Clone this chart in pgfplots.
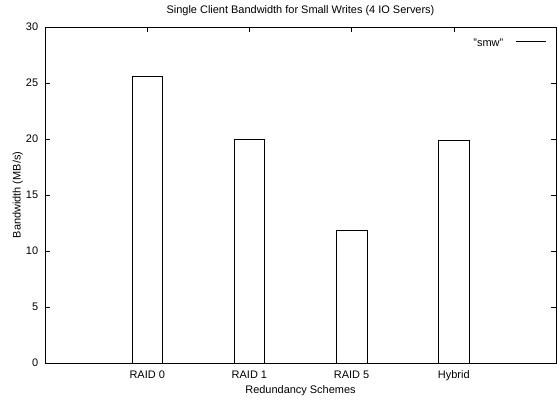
\documentclass[border=0pt]{standalone}
\usepackage{fontspec}
\setmainfont{Liberation Sans}
\usepackage{pgfplots}
\pgfplotsset{compat=1.18}
\begin{document}
\begin{tikzpicture}
\fontsize{11}{13}\selectfont
\begin{axis}[
  scale only axis, width=511bp, height=336bp,
  xmin=0, xmax=5, ymin=0, ymax=30,
  xtick={1,2,3,4}, xticklabels={RAID 0, RAID 1, RAID 5, Hybrid},
  ytick={0,5,...,30},
  tick align=inside, major tick length=5bp,
  tick style={black, line width=0.6bp},
  axis line style={black, line width=0.8bp},
  /pgf/number format/assume math mode=true,
  ticklabel style={font=\fontsize{11}{13}\selectfont},
  yticklabel style={anchor=east, xshift=-3bp},
  xticklabel style={anchor=base, yshift=-15bp},
  title={Single Client Bandwidth for Small Writes (4 IO Servers)},
  title style={at={(axis description cs:0.5,1)}, anchor=base, yshift=7.5bp, font=\fontsize{11}{13}\selectfont},
  xlabel={Redundancy Schemes},
  xlabel style={at={(axis description cs:0.5,0)}, anchor=base, yshift=-30bp, font=\fontsize{11}{13}\selectfont},
  ylabel={Bandwidth (MB/s)},
  ylabel style={at={(axis description cs:-0.0476,0.5)}, anchor=base, font=\fontsize{11}{13}\selectfont},
  legend plot pos=right,
  legend style={at={(axis description cs:1,1)}, anchor=north east, xshift=-10bp, yshift=-12bp,
    draw=none, fill=none, inner sep=0pt, /tikz/column sep=12bp, font=\fontsize{11}{13}\selectfont,
    nodes={inner sep=0pt}},
]
\addplot[ybar, bar width=0.3, draw=black, fill=white, line width=0.7bp,
  legend image code/.code={\draw[black, line width=0.6bp, fill=none] (0bp,2.5bp) -- (30bp,2.5bp);}]
  coordinates {(1,25.6) (2,20.0) (3,11.8) (4,19.9)};
\addlegendentry{"smw"}
\coordinate (sw) at (rel axis cs:0,0);
\coordinate (ne) at (rel axis cs:1,1);
\end{axis}
\pgfresetboundingbox
\useasboundingbox ([shift={(-45bp,-38bp)}]sw) rectangle ([shift={(1bp,27bp)}]ne);
\end{tikzpicture}
\end{document}
